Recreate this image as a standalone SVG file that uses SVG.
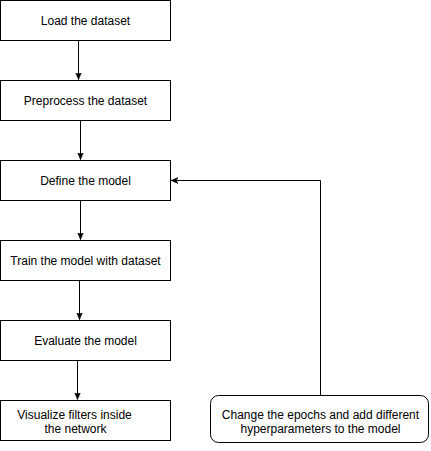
<svg xmlns="http://www.w3.org/2000/svg" width="431" height="451" viewBox="0 0 431 451">
<style>
.box{fill:#fff;stroke:#000;stroke-width:1}
.t{font-family:"Liberation Sans",Arial,sans-serif;font-size:12px;fill:#000;text-anchor:middle}
.c{fill:none;stroke:#000;stroke-width:1}
</style>
<defs>
<marker id="ah" markerWidth="8" markerHeight="8" refX="7" refY="4" orient="auto" markerUnits="userSpaceOnUse">
<path d="M0,1 L7,4 L0,7 L1.6,4 Z" fill="#000" stroke="#000" stroke-width="0.5"/>
</marker>
</defs>
<rect width="431" height="451" fill="#fff"/>
<g id="connectors">
<path class="c" d="M78.5,40.5 L78.5,79.5" marker-end="url(#ah)"/>
<path class="c" d="M80.5,120.5 L80.5,159.5" marker-end="url(#ah)"/>
<path class="c" d="M80.5,200.5 L80.5,239.5" marker-end="url(#ah)"/>
<path class="c" d="M79.5,280.5 L79.5,319.5" marker-end="url(#ah)"/>
<path class="c" d="M77.5,360.5 L77.5,399.5" marker-end="url(#ah)"/>
<path class="c" d="M320.5,395.5 L320.5,180.5 L171,180.5" marker-end="url(#ah)"/>
</g>
<g id="n1"><rect class="box" x="0.5" y="0.5" width="170" height="40"/><text class="t" x="85.5" y="24.5">Load the dataset</text></g>
<g id="n2"><rect class="box" x="0.5" y="80.5" width="170" height="40"/><text class="t" x="85.5" y="104.5">Preprocess the dataset</text></g>
<g id="n3"><rect class="box" x="0.5" y="160.5" width="170" height="40"/><text class="t" x="85.5" y="184.5">Define the model</text></g>
<g id="n4"><rect class="box" x="0.5" y="240.5" width="170" height="40"/><text class="t" x="85.5" y="264.5">Train the model with dataset</text></g>
<g id="n5"><rect class="box" x="0.5" y="320.5" width="170" height="40"/><text class="t" x="85.5" y="344.5">Evaluate the model</text></g>
<g id="n6"><rect class="box" x="0.5" y="400.5" width="170" height="40"/><text class="t" x="74.5" y="418.5">Visualize filters inside</text><text class="t" x="75.5" y="432.5">the network</text></g>
<g id="n7"><rect class="box" x="210.5" y="395.5" width="218" height="47" rx="8" ry="8"/><text class="t" x="320.5" y="418.5">Change the epochs and add different</text><text class="t" x="320.5" y="432.5">hyperparameters to the model</text></g>
</svg>
